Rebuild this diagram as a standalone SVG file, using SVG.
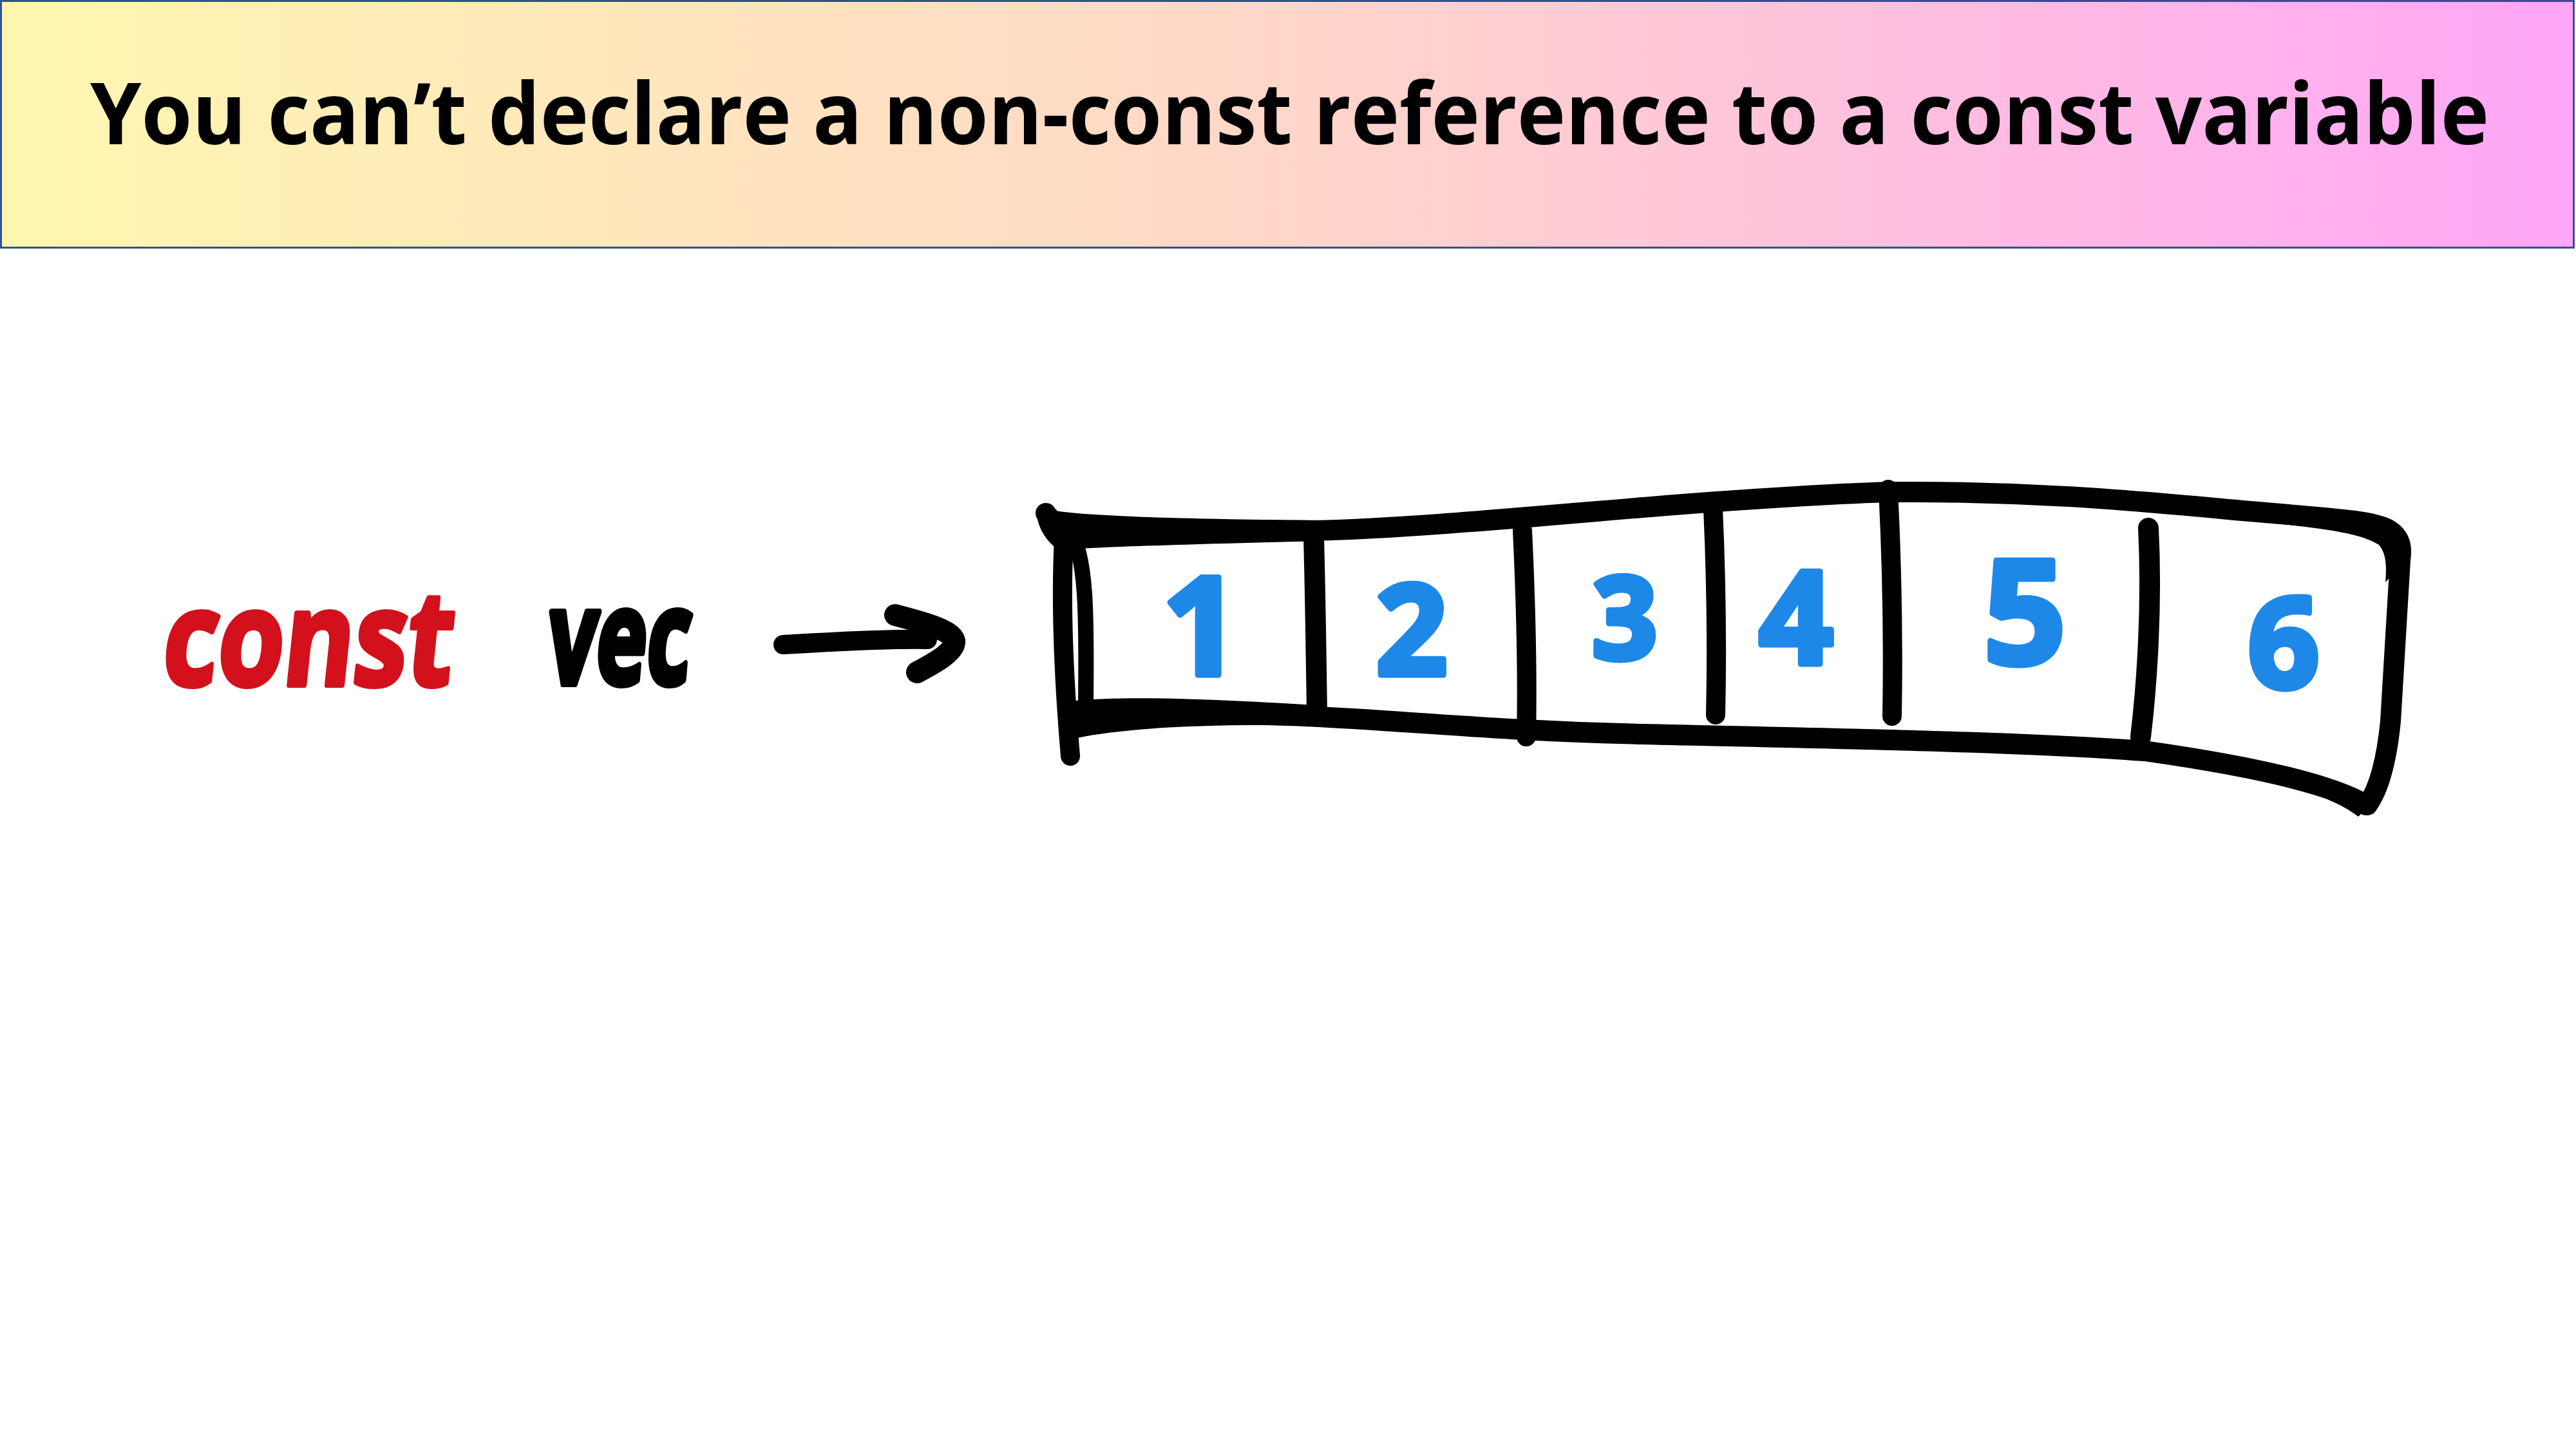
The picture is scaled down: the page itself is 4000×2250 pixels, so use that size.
<svg xmlns="http://www.w3.org/2000/svg" width="4000" height="2250" viewBox="0 0 4000 2250">
<defs>
<linearGradient id="hdr" x1="0" y1="0" x2="1" y2="0">
<stop offset="0" stop-color="#fff7b0"/>
<stop offset="0.5" stop-color="#ffd6c9"/>
<stop offset="1" stop-color="#ffa6f7"/>
</linearGradient>
<style>
.title{font-family:"Open Sans","Noto Sans","Liberation Sans",sans-serif;font-weight:700;font-size:132px;fill:#000}
.hand{font-family:"Open Sans","Noto Sans","Liberation Sans",sans-serif;font-weight:700;stroke-linejoin:round;stroke-linecap:round}
.red{fill:#d3111c;stroke:#d3111c;stroke-width:8}
.blk{fill:#000;stroke:#000;stroke-width:10}
.digit{fill:#1e88e8;stroke:#1e88e8;stroke-width:9;text-anchor:middle}
.ink{fill:none;stroke:#000;stroke-linecap:round;stroke-linejoin:round}
.wedge{fill:#000}
</style>
</defs>
<rect width="4000" height="2250" fill="#fff"/>
<g id="header">
<rect x="1.5" y="1.5" width="3995" height="383" fill="url(#hdr)" stroke="#2f528f" stroke-width="3"/>
<text class="title" x="140" y="224" textLength="3725" lengthAdjust="spacingAndGlyphs">You can’t declare a non-const reference to a const variable</text>
</g>
<g id="const-label">
<text class="hand red" x="250" y="1064" font-size="205" textLength="450" lengthAdjust="spacingAndGlyphs" transform="skewX(-6) translate(110,0)">const</text>
</g>
<g id="vec-label">
<text class="hand blk" x="846" y="1062" font-size="205" textLength="222" lengthAdjust="spacingAndGlyphs" transform="skewX(-5) translate(93,0)">vec</text>
</g>
<g id="connectors">
<path class="ink" d="M1216,1001 C1300,996 1380,992 1440,993" stroke-width="30"/>
<path class="ink" d="M1390,955 C1432,966 1478,978 1482,995 C1484,1012 1450,1030 1424,1044" stroke-width="34"/>
</g>
<g id="array">
<path class="ink" d="M1624,797 C1640,825 1700,822 1800,822 L2041,824 C2200,820 2400,800 2600,784 C2750,772 2900,764 2950,764 C3150,763 3300,776 3450,790 C3600,804 3680,806 3708,822 C3728,834 3730,850 3727,870 L3712,1120 C3705,1190 3692,1228 3676,1250" stroke-width="32"/>
<path class="wedge" d="M1612,788 C1650,800 1800,806 2050,808 L2050,840 C1800,846 1700,850 1645,854 C1620,840 1605,805 1612,788 Z"/>
<path class="wedge" d="M1670,1088 C1750,1080 1900,1086 2040,1095 L2040,1127 C1900,1124 1760,1128 1672,1146 Z"/>
<path class="wedge" d="M3380,1184 C3500,1202 3610,1228 3662,1268 L3686,1244 C3620,1210 3500,1186 3380,1170 Z"/>
<path class="wedge" d="M3470,806 C3580,818 3660,824 3694,846 C3706,860 3706,882 3704,904 L3727,880 L3724,832 C3700,810 3640,804 3470,792 Z"/>
<path class="ink" d="M3674,1250 C3620,1218 3500,1190 3330,1166 C3100,1150 2800,1146 2551,1140 C2300,1134 2150,1116 2000,1111 C1850,1106 1750,1106 1680,1118" stroke-width="32"/>
<path class="ink" d="M1652,836 C1646,950 1654,1080 1662,1174" stroke-width="30"/>
<path class="ink" d="M1660,824 C1692,862 1686,1000 1686,1110" stroke-width="24"/>
<g id="dividers">
<path class="ink" d="M2040,834 C2043,950 2044,1050 2045,1106" stroke-width="32"/>
<path class="ink" d="M2364,824 C2370,950 2372,1050 2370,1144" stroke-width="30"/>
<path class="ink" d="M2660,790 C2665,900 2666,1020 2664,1110" stroke-width="30"/>
<path class="ink" d="M2932,760 C2938,880 2940,1000 2938,1112" stroke-width="30"/>
<path class="ink" d="M3336,820 C3342,940 3334,1060 3324,1144" stroke-width="32"/>
</g>
</g>
<g id="cell-1"><text class="hand digit" x="1865" y="1048" font-size="212">1</text></g>
<g id="cell-2"><text class="hand digit" x="2192" y="1048" font-size="195">2</text></g>
<g id="cell-3"><text class="hand digit" x="2523" y="1023" font-size="178">3</text></g>
<g id="cell-4"><text class="hand digit" x="2789" y="1031" font-size="202">4</text></g>
<g id="cell-5"><text class="hand digit" x="3144" y="1031" font-size="225">5</text></g>
<g id="cell-6"><text class="hand digit" x="3546" y="1068" font-size="195">6</text></g>
</svg>
